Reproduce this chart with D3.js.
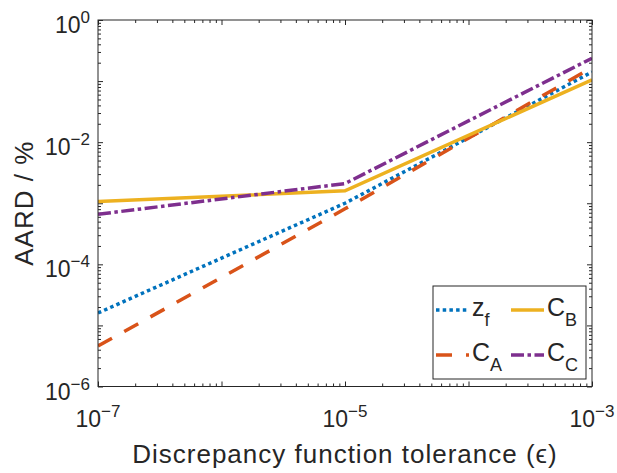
<!DOCTYPE html>
<html>
<head>
<meta charset="utf-8">
<script src="https://cdn.jsdelivr.net/npm/d3@7"></script>
<style>
  html, body { margin: 0; padding: 0; background: #fff; }
  svg { display: block; }
  text { font-family: "Liberation Sans", Arial, "DejaVu Sans", sans-serif; fill: #262626; }
</style>
</head>
<body>
<svg id="chart" width="617" height="473"></svg>
<script>
// Tolerance values (x) and AARD for each quantity
const tolerance = [1e-7, 1e-5, 1e-3];
const zf = [1.6e-5, 1.0e-3, 0.141];
const cA = [4.6e-6, 8.1e-4, 0.167];
const cB = [1.07e-3, 1.6e-3, 0.105];
const cC = [6.6e-4, 2.1e-3, 0.237];

// Labelled decades on each axis
const xTickExps = [-7, -5, -3];
const yTickExps = [-6, -4, -2, 0];

const seriesNames = ["z_f", "C_A", "C_B", "C_C"];
const seriesColors = ["#0072BD", "#D95319", "#EDB120", "#7E2F8E"];
const seriesDash = ["3.5,3.2", "16,14", null, "13,3.5,3.5,3.5"];

const svg = d3.select("#chart");
const pL = 98, pR = 592, pT = 20, pB = 386.5;

const x = d3.scaleLog().domain([1e-7, 1e-3]).range([pL, pR]);
const y = d3.scaleLog().domain([1e-6, 1]).range([pB, pT]);

// Major decades and minor 2..9 ticks
function logTicks(lo, hi) {
  const major = [], minor = [];
  for (let e = lo; e <= hi; e++) {
    major.push(Math.pow(10, e));
    if (e < hi) for (let k = 2; k <= 9; k++) minor.push(k * Math.pow(10, e));
  }
  return { major, minor };
}
const xt = logTicks(-7, -3);
const yt = logTicks(-6, 0);

const axisColor = "#262626";
const majorLen = 5, minorLen = 3;

function styleAxis(g) {
  g.select(".domain").remove();
  g.selectAll(".tick line").attr("stroke", axisColor).attr("stroke-width", 1);
  g.selectAll(".tick text").remove();
}

// Inward ticks on all four sides
svg.append("g").attr("transform", `translate(0,${pB})`)
  .call(d3.axisBottom(x).tickValues(xt.major).tickSize(-majorLen)).call(styleAxis);
svg.append("g").attr("transform", `translate(0,${pB})`)
  .call(d3.axisBottom(x).tickValues(xt.minor).tickSize(-minorLen)).call(styleAxis);
svg.append("g").attr("transform", `translate(0,${pT})`)
  .call(d3.axisTop(x).tickValues(xt.major).tickSize(-majorLen)).call(styleAxis);
svg.append("g").attr("transform", `translate(0,${pT})`)
  .call(d3.axisTop(x).tickValues(xt.minor).tickSize(-minorLen)).call(styleAxis);
svg.append("g").attr("transform", `translate(${pL},0)`)
  .call(d3.axisLeft(y).tickValues(yt.major).tickSize(-majorLen)).call(styleAxis);
svg.append("g").attr("transform", `translate(${pL},0)`)
  .call(d3.axisLeft(y).tickValues(yt.minor).tickSize(-minorLen)).call(styleAxis);
svg.append("g").attr("transform", `translate(${pR},0)`)
  .call(d3.axisRight(y).tickValues(yt.major).tickSize(-majorLen)).call(styleAxis);
svg.append("g").attr("transform", `translate(${pR},0)`)
  .call(d3.axisRight(y).tickValues(yt.minor).tickSize(-minorLen)).call(styleAxis);

// Data lines, clipped to the plot box
svg.append("clipPath").attr("id", "plotClip").append("rect")
  .attr("x", pL).attr("y", pT).attr("width", pR - pL).attr("height", pB - pT);

const line = d3.line().x(d => x(d[0])).y(d => y(d[1]));
const allSeries = [zf, cA, cB, cC];
const plot = svg.append("g").attr("clip-path", "url(#plotClip)");
allSeries.forEach((vals, i) => {
  plot.append("path")
    .datum(tolerance.map((t, j) => [t, vals[j]]))
    .attr("d", line)
    .attr("fill", "none")
    .attr("stroke", seriesColors[i])
    .attr("stroke-width", 3.5)
    .attr("stroke-dasharray", seriesDash[i])
    .attr("stroke-linecap", "butt");
});

// Axes box
svg.append("rect")
  .attr("x", pL).attr("y", pT).attr("width", pR - pL).attr("height", pB - pT)
  .attr("fill", "none").attr("stroke", axisColor).attr("stroke-width", 1);

// Power-of-ten tick labels (true minus sign in the exponent)
const expText = e => String(e).replace("-", "\u2212");
xTickExps.forEach(e => {
  const t = svg.append("text")
    .attr("x", x(Math.pow(10, e))).attr("y", 426.5)
    .attr("text-anchor", "middle").attr("font-size", 23);
  t.append("tspan").text("10");
  t.append("tspan").attr("font-size", 17).attr("dy", -10).text(expText(e));
});
yTickExps.forEach(e => {
  const t = svg.append("text")
    .attr("x", 90).attr("y", y(Math.pow(10, e)) + 13)
    .attr("text-anchor", "end").attr("font-size", 23);
  t.append("tspan").text("10");
  t.append("tspan").attr("font-size", 17).attr("dy", -10).text(expText(e));
});

// Axis titles
svg.append("text")
  .attr("x", (pL + pR) / 2).attr("y", 463)
  .attr("text-anchor", "middle").attr("font-size", 26)
  .attr("letter-spacing", 1)
  .text("Discrepancy function tolerance (\u03F5)");
svg.append("text")
  .attr("transform", `translate(33,${(pT + pB) / 2}) rotate(-90)`)
  .attr("text-anchor", "middle").attr("font-size", 26)
  .attr("letter-spacing", 1)
  .text("AARD / %");

// Legend (two columns)
const legend = svg.append("g");
legend.append("rect")
  .attr("x", 433).attr("y", 286).attr("width", 153).attr("height", 93)
  .attr("fill", "#fff").attr("stroke", axisColor).attr("stroke-width", 1);

const legendPos = [[436, 310], [436, 355], [511, 310], [511, 355]];
seriesNames.forEach((name, i) => {
  const [lx, ly] = legendPos[i];
  legend.append("line")
    .attr("x1", lx).attr("x2", lx + 33).attr("y1", ly).attr("y2", ly)
    .attr("stroke", seriesColors[i]).attr("stroke-width", 3.5)
    .attr("stroke-dasharray", seriesDash[i]);
  const parts = name.split("_");
  const t = legend.append("text")
    .attr("x", lx + 36).attr("y", ly + 6).attr("font-size", 25);
  t.append("tspan").text(parts[0]);
  t.append("tspan").attr("font-size", 18).attr("dy", 10).text(parts[1]);
});
</script>
</body>
</html>
